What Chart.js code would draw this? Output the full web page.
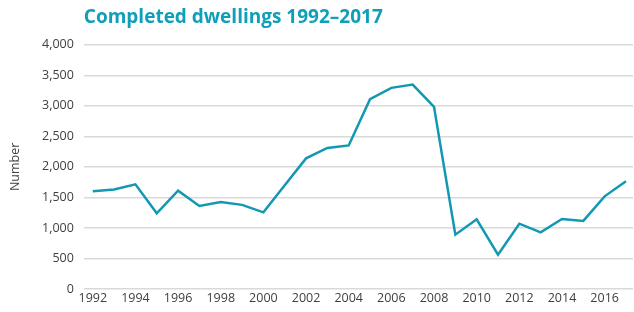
<!DOCTYPE html>
<html>
<head>
<meta charset="utf-8">
<script src="https://cdn.jsdelivr.net/npm/chart.js@4"></script>
<style>
  html, body { margin: 0; padding: 0; background: #fff; }
  #wrap { width: 634px; height: 312px; position: relative; }
</style>
</head>
<body>
<div id="wrap"><canvas id="dwell-chart"></canvas></div>
<script>
const years = [1992, 1993, 1994, 1995, 1996, 1997, 1998, 1999, 2000, 2001, 2002, 2003, 2004,
               2005, 2006, 2007, 2008, 2009, 2010, 2011, 2012, 2013, 2014, 2015, 2016, 2017];
const completed = [1600, 1630, 1715, 1240, 1610, 1360, 1425, 1378, 1256, 1700, 2140, 2311, 2352,
                   3108, 3295, 3349, 2984, 890, 1141, 562, 1070, 928, 1147, 1115, 1518, 1764];
const xTicks = [1992, 1994, 1996, 1998, 2000, 2002, 2004, 2006, 2008, 2010, 2012, 2014, 2016];

const teal = '#1298b2';
const textGrey = '#404040';

window.addEventListener("DOMContentLoaded", () => {
    const ctx = document.getElementById('dwell-chart');
    const points = years.map((y, i) => ({x: y, y: completed[i]}));

    const config = {
        type: 'line',
        data: {
            datasets: [{
                data: points,
                borderColor: teal,
                borderWidth: 2.5,
                pointRadius: 0,
                tension: 0
            }]
        },
        options: {
            responsive: true,
            maintainAspectRatio: false,
            animation: false,
            layout: {padding: {left: 8, right: 1, top: 4, bottom: 4}},
            plugins: {
                legend: {display: false},
                tooltip: {enabled: false},
                title: {
                    display: true,
                    text: 'Completed dwellings 1992\u20132017',
                    align: 'start',
                    fullSize: false,
                    color: '#0f9fb8',
                    font: {family: 'Open Sans', size: 19, weight: 'bold'},
                    padding: {top: 2, bottom: 16}
                }
            },
            scales: {
                x: {
                    type: 'linear',
                    min: 1991.58,
                    max: 2017.33,
                    grid: {display: false, drawTicks: false},
                    border: {display: false},
                    afterBuildTicks: axis => {
                        axis.ticks = xTicks.map(v => ({value: v}));
                    },
                    ticks: {
                        color: textGrey,
                        font: {family: 'Open Sans', size: 12.5},
                        padding: 2,
                        maxRotation: 0,
                        callback: v => String(v)
                    }
                },
                y: {
                    min: 0,
                    max: 4000,
                    grid: {color: '#d9d9d9', lineWidth: 1.5, drawTicks: false},
                    border: {display: false},
                    ticks: {
                        stepSize: 500,
                        color: textGrey,
                        padding: 10,
                        font: {family: 'Open Sans', size: 12.5},
                        callback: v => v.toLocaleString('en-US')
                    },
                    title: {
                        display: true,
                        text: 'Number',
                        color: textGrey,
                        font: {family: 'Open Sans', size: 12.5},
                        padding: {top: 0, bottom: 9}
                    }
                }
            }
        }
    };

    new Chart(ctx, config);
});
</script>
</body>
</html>
